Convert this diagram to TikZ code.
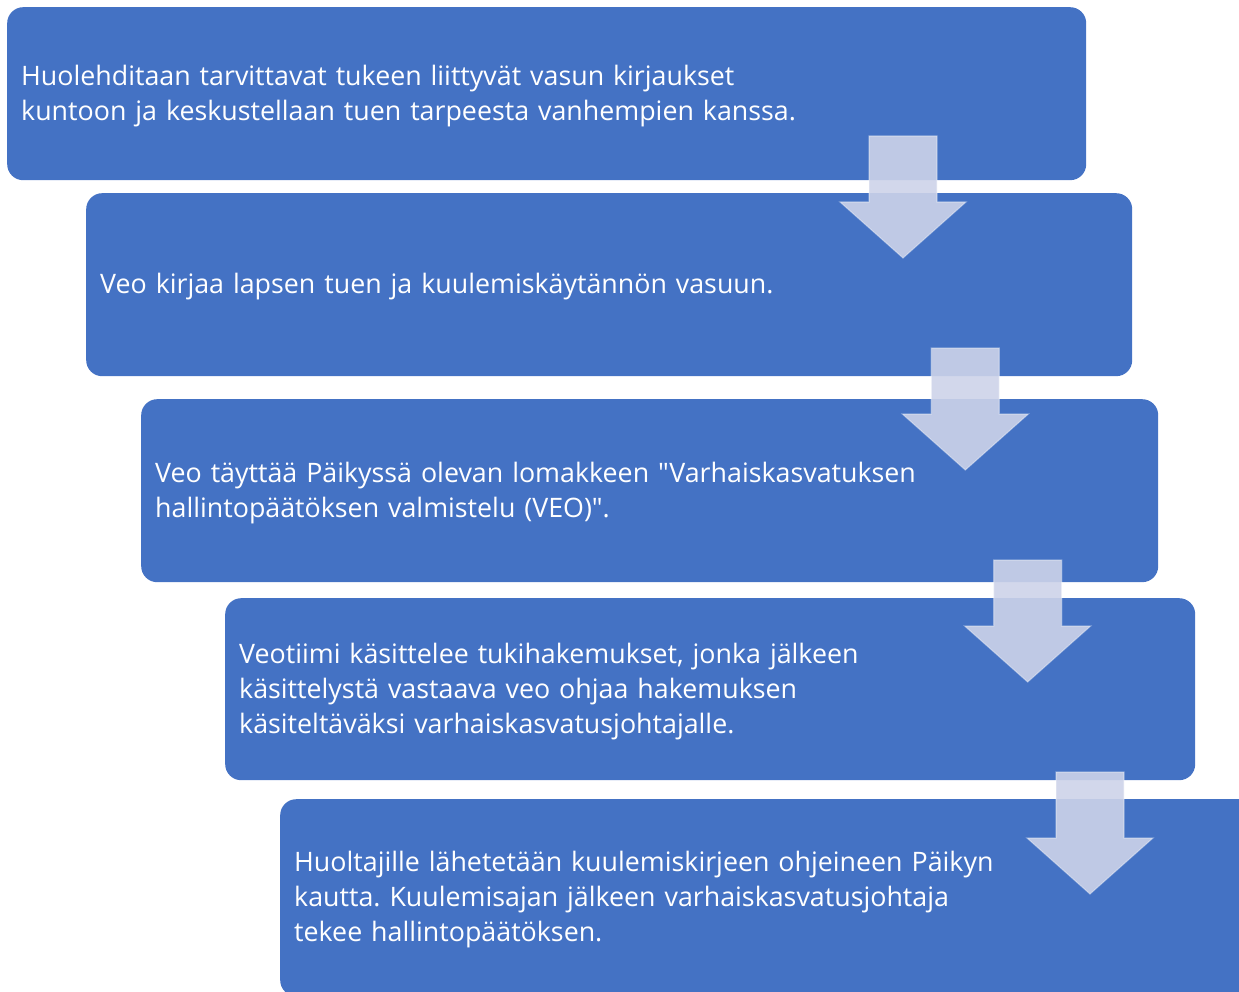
\documentclass[tikz,border=0pt]{standalone}
\usepackage{fontspec}
\setmainfont{Open Sans}[Ligatures={NoCommon,TeXOff}]
\definecolor{boxblue}{RGB}{68,114,196}
\definecolor{arrowfill}{RGB}{205,211,233}
\tikzset{
  stepbox/.style={fill=boxblue, rounded corners=16pt, anchor=north west, inner sep=0pt},
  steptext/.style={anchor=west, text=white, align=left, inner xsep=14pt, inner ysep=0pt,
    text width=880pt, font=\fontsize{26.8}{35}\selectfont, yshift=-2pt},
  downarrow/.style={fill=arrowfill, fill opacity=0.9, draw=white, draw opacity=0.35, line width=1.2pt, line join=miter}
}
\frenchspacing
\begin{document}
\begin{tikzpicture}[x=1pt,y=-1pt]
\useasboundingbox (0,0) rectangle (1239,992);
\clip (0,0) rectangle (1239,992);
\node[stepbox, minimum width=1079pt, minimum height=173pt] (b1) at (7,7) {};
\node[steptext] (t1) at (b1.west)
  {Huolehditaan tarvittavat tukeen liittyvät vasun kirjaukset\\kuntoon ja keskustellaan tuen tarpeesta vanhempien kanssa.};
\node[stepbox, minimum width=1046pt, minimum height=183pt] (b2) at (86,193) {};
\node[steptext] (t2) at (b2.west)
  {Veo kirjaa lapsen tuen ja kuulemiskäytännön vasuun.};
\node[stepbox, minimum width=1017pt, minimum height=183pt] (b3) at (141,399) {};
\node[steptext] (t3) at (b3.west)
  {Veo täyttää Päikyssä olevan lomakkeen "Varhaiskasvatuksen\\hallintopäätöksen valmistelu (VEO)".};
\node[stepbox, minimum width=970pt, minimum height=182pt] (b4) at (225,598) {};
\node[steptext] (t4) at (b4.west)
  {Veotiimi käsittelee tukihakemukset, jonka jälkeen\\käsittelystä vastaava veo ohjaa hakemuksen\\käsiteltäväksi varhaiskasvatusjohtajalle.};
\node[stepbox, minimum width=975pt, minimum height=197pt] (b5) at (280,799) {};
\node[steptext] (t5) at (b5.west)
  {Huoltajille lähetetään kuulemiskirjeen ohjeineen Päikyn\\kautta. Kuulemisajan jälkeen varhaiskasvatusjohtaja\\tekee hallintopäätöksen.};
\foreach \i in {0,1,2,3} {
  \pgfmathsetmacro{\cx}{903+62.33*\i}
  \pgfmathsetmacro{\t}{136+212*\i}
  \draw[downarrow] (\cx-34,\t) -- (\cx+34,\t) -- (\cx+34,\t+66) -- (\cx+63,\t+66)
    -- (\cx,\t+122) -- (\cx-63,\t+66) -- (\cx-34,\t+66) -- cycle;
}
\end{tikzpicture}
\end{document}
